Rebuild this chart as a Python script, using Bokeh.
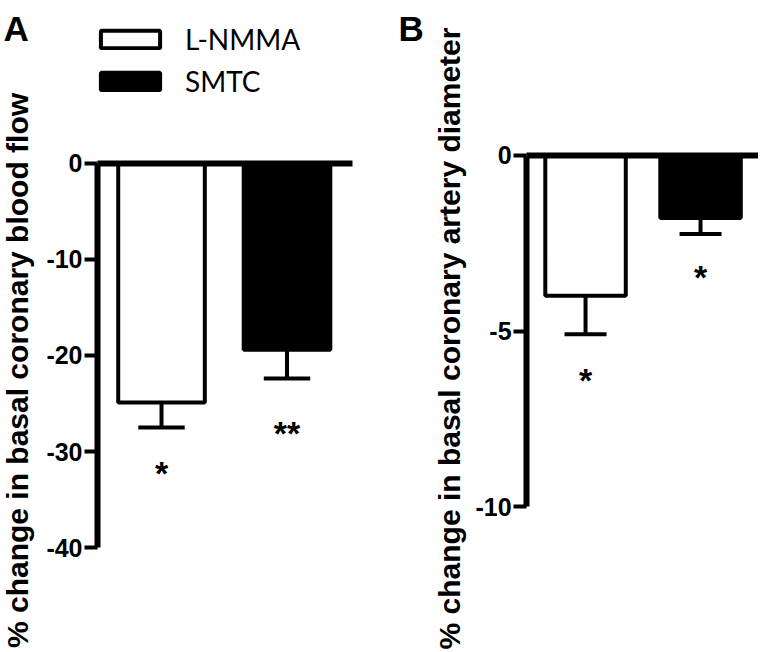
import math
from bokeh.plotting import figure
from bokeh.models import (Range1d, FixedTicker, Legend, LegendItem, Label,
                          ColumnDataSource, LinearAxis)
from bokeh.layouts import row
from bokeh.embed import file_html
from bokeh.resources import INLINE
from bokeh.core.properties import value

# ---------------- data ----------------
groups = ["L-NMMA", "SMTC"]
group_fill = ["white", "black"]

flow_mean = [-24.9, -19.4]
flow_sem = [2.6, 3.0]
flow_sig = ["*", "**"]
flow_sig_y = [-32.2, -28.1]
flow_ticks = [0, -10, -20, -30, -40]
flow_tick_labels = ["0", "-10", "-20", "-30", "-40"]
flow_label = "% change in basal coronary blood flow"

diam_mean = [-4.0, -1.79]
diam_sem = [1.09, 0.45]
diam_sig = ["*", "*"]
diam_sig_y = [-6.4, -3.47]
diam_ticks = [0, -5, -10]
diam_tick_labels = ["0", "-5", "-10"]
diam_label = "% change in basal coronary artery diameter"

FONT = "Liberation Sans"
H = 650


def make_panel(width, x_range, y_range, axis_x, zero_end, means, sems, sig,
               sig_y, ticks, tick_labels, ylabel, ylabel_xy, bar_w, cap_w,
               letter, letter_xy, with_legend):
    p = figure(width=width, height=H, x_range=Range1d(*x_range),
               y_range=Range1d(*y_range), x_axis_location=None,
               output_backend="svg", toolbar_location=None, min_border=0)
    p.grid.visible = False
    p.outline_line_color = None
    p.background_fill_color = "white"
    p.border_fill_color = "white"

    xs = [i + 1 for i in range(len(groups))]
    lo = [m - s for m, s in zip(means, sems)]
    src = ColumnDataSource(dict(x=xs, mean=means, lo=lo, fill=group_fill,
                                cx0=[x - cap_w / 2 for x in xs],
                                cx1=[x + cap_w / 2 for x in xs]))
    bars = p.vbar(x="x", top=0, bottom="mean", width=bar_w, source=src,
                  fill_color="fill", line_color="black", line_width=4)
    p.segment(x0="x", y0="mean", x1="x", y1="lo", source=src,
              line_color="black", line_width=4)
    p.segment(x0="cx0", y0="lo", x1="cx1", y1="lo", source=src,
              line_color="black", line_width=4)

    ssrc = ColumnDataSource(dict(x=xs, y=sig_y, t=sig))
    p.text(x="x", y="y", text="t", source=ssrc, text_align="center",
           text_baseline="middle", text_font=value(FONT),
           text_font_style="bold", text_font_size="34px", text_color="black")

    # zero line drawn as an x axis fixed at y = 0
    zx = LinearAxis(fixed_location=0, ticker=FixedTicker(ticks=[]),
                    bounds=(axis_x, zero_end), axis_line_width=6,
                    axis_line_color="black", major_tick_line_color=None,
                    minor_tick_line_color=None)
    p.add_layout(zx, "below")

    ax = p.yaxis[0]
    ax.fixed_location = axis_x
    ax.ticker = FixedTicker(ticks=ticks)
    ax.major_label_overrides = {t: l for t, l in zip(ticks, tick_labels)}
    ax.bounds = (min(ticks), max(ticks))
    ax.axis_line_width = 6
    ax.axis_line_color = "black"
    ax.major_tick_line_width = 4
    ax.major_tick_line_color = "black"
    ax.major_tick_out = 13
    ax.major_tick_in = 0
    ax.minor_tick_line_color = None
    ax.major_label_text_font = FONT
    ax.major_label_text_font_style = "bold"
    ax.major_label_text_font_size = "25px"
    ax.major_label_text_color = "black"
    ax.major_label_standoff = 2

    p.add_layout(Label(x=ylabel_xy[0], y=ylabel_xy[1], x_units="screen",
                       y_units="screen", text=ylabel, angle=math.pi / 2,
                       text_font=FONT, text_font_style="bold",
                       text_font_size="30px", text_color="black",
                       text_align="center", text_baseline="middle"))

    p.add_layout(Label(x=letter_xy[0], y=letter_xy[1], x_units="screen",
                       y_units="screen", text=letter, text_font=FONT,
                       text_font_style="bold", text_font_size="35px",
                       text_color="black", text_baseline="alphabetic"))

    if with_legend:
        items = [LegendItem(label=g, renderers=[bars], index=i)
                 for i, g in enumerate(groups)]
        leg = Legend(items=items, location=(93, 552), glyph_width=74,
                     glyph_height=22, label_text_font="Lato",
                     label_text_font_size="28px", label_text_color="black",
                     label_standoff=18, spacing=8, padding=0, margin=0,
                     border_line_color=None, background_fill_alpha=0)
        p.add_layout(leg)
    return p


pA = make_panel(380, (-0.283, 2.745), (-50.67, 16.90), 0.490, 2.522,
                flow_mean, flow_sem, flow_sig, flow_sig_y, flow_ticks,
                flow_tick_labels, flow_label, (17, 280), 0.69, 0.37,
                "A", (3, 622), True)
pB = make_panel(378, (-0.783, 2.504), (-14.08, 4.393), 0.487, 2.504,
                diam_mean, diam_sem, diam_sig, diam_sig_y, diam_ticks,
                diam_tick_labels, diam_label, (69, 312), 0.70, 0.365,
                "B", (18, 622), False)

layout = row(pA, pB)
open("out.html", "w").write(file_html(layout, INLINE))
